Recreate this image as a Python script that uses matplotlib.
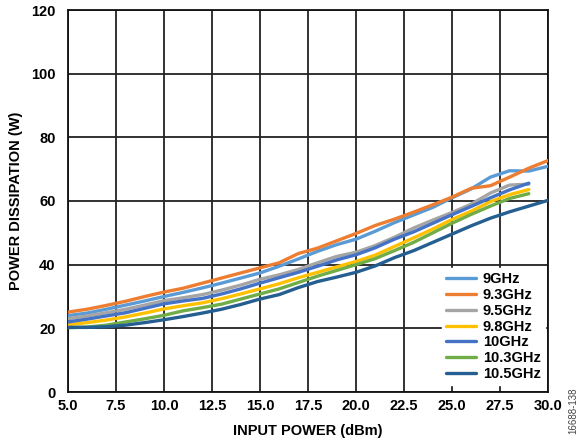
import matplotlib
matplotlib.use("Agg")
import matplotlib.pyplot as plt

plt.rcParams['font.family'] = ['Liberation Sans', 'DejaVu Sans']

x_dbm = [5, 6, 7, 8, 9, 10, 11, 12, 13, 14, 15, 16, 17, 18, 19, 20, 21, 22, 23, 24, 25, 26, 27, 28, 29, 30]
x_short = x_dbm[:25]

p_9ghz = [24.0, 24.8, 26.0, 27.3, 28.6, 30.0, 31.3, 32.7, 34.2, 35.8, 37.4, 39.5, 41.8, 44.2, 46.3, 48.0,
          50.5, 53.2, 55.6, 58.0, 61.0, 63.8, 67.5, 69.5, 69.4, 70.9]
p_9_3ghz = [25.1, 26.0, 27.2, 28.5, 30.0, 31.4, 32.6, 34.2, 35.8, 37.4, 39.0, 40.6, 43.5, 45.2, 47.5, 49.8,
            52.3, 54.3, 56.5, 58.8, 61.2, 64.0, 64.8, 67.5, 70.3, 72.7]
p_9_5ghz = [23.0, 23.9, 24.9, 26.0, 27.3, 28.7, 29.6, 30.6, 32.0, 33.6, 35.4, 36.8, 38.5, 40.6, 42.6, 43.9,
            46.0, 48.6, 51.5, 54.0, 56.4, 59.0, 62.5, 65.0, 65.3]
p_9_8ghz = [21.1, 21.8, 22.6, 23.6, 24.8, 26.1, 27.1, 28.0, 29.3, 30.8, 32.4, 34.0, 35.9, 37.6, 39.3, 41.0,
            43.0, 45.7, 48.4, 51.2, 54.2, 56.8, 59.8, 62.0, 63.6]
p_10ghz = [22.0, 22.9, 23.9, 24.9, 26.3, 27.7, 28.6, 29.4, 30.8, 32.4, 34.2, 35.9, 37.6, 39.5, 41.5, 43.1,
           45.3, 48.0, 50.3, 53.0, 55.7, 58.3, 61.0, 63.5, 65.6]
p_10_3ghz = [20.2, 20.4, 21.0, 22.0, 23.0, 24.1, 25.5, 26.5, 27.6, 29.2, 30.8, 32.4, 34.4, 36.4, 38.2, 40.0,
             41.9, 44.4, 47.0, 50.0, 53.0, 55.8, 58.4, 60.8, 62.3]
p_10_5ghz = [20.3, 20.3, 20.5, 21.0, 21.8, 22.7, 23.7, 24.8, 26.0, 27.5, 29.2, 30.6, 32.8, 34.7, 36.1, 37.6,
             39.6, 42.2, 44.4, 47.0, 49.6, 52.2, 54.6, 56.6, 58.4, 60.2]

series = [
    ("9GHz", x_dbm, p_9ghz, "#5B9BD5"),
    ("9.3GHz", x_dbm, p_9_3ghz, "#ED7D31"),
    ("9.5GHz", x_short, p_9_5ghz, "#A5A5A5"),
    ("9.8GHz", x_short, p_9_8ghz, "#FFC000"),
    ("10GHz", x_short, p_10ghz, "#4472C4"),
    ("10.3GHz", x_short, p_10_3ghz, "#70AD47"),
    ("10.5GHz", x_dbm, p_10_5ghz, "#255E91"),
]

x_ticks = [5.0, 7.5, 10.0, 12.5, 15.0, 17.5, 20.0, 22.5, 25.0, 27.5, 30.0]
y_ticks = [0, 20, 40, 60, 80, 100, 120]

fig = plt.figure(figsize=(5.84, 4.46), dpi=100)
ax = fig.add_axes([68/584, 54/446, 480/584, 382/446])

for name, xs, ys, c in series:
    ax.plot(xs, ys, color=c, lw=2.4, label=name, solid_capstyle='round', zorder=3)

ax.set_xlim(5, 30)
ax.set_ylim(0, 120)
ax.set_xticks(x_ticks)
ax.set_xticklabels([f"{t:.1f}" for t in x_ticks])
ax.set_yticks(y_ticks)
ax.grid(True, color='#222222', lw=1.3, zorder=1)
for s in ax.spines.values():
    s.set_color('#111111')
    s.set_linewidth(1.3)
ax.tick_params(axis='x', length=0, labelsize=10.5, pad=5)
ax.tick_params(axis='y', length=0, labelsize=10.5, pad=9)
for lab in ax.get_xticklabels() + ax.get_yticklabels():
    lab.set_fontweight('bold')

ax.set_xlabel("INPUT POWER (dBm)", fontsize=10.5, fontweight='bold', labelpad=8)
ax.set_ylabel("POWER DISSIPATION (W)", fontsize=10.5, fontweight='bold', labelpad=6)

leg = ax.legend(loc='lower right', bbox_to_anchor=(1.0, 0.01), frameon=True, fancybox=False,
                edgecolor='white', facecolor='white', framealpha=1.0,
                prop={'weight': 'bold', 'size': 10.5}, handlelength=2.0,
                handletextpad=0.5, labelspacing=0.12, borderpad=0.3, borderaxespad=0.2)
leg.set_zorder(5)

fig.text(0.982, 0.08, "16688-138", rotation=90, fontsize=7, color='#444444', ha='center', va='center')

fig.savefig("out.png", dpi=100)
